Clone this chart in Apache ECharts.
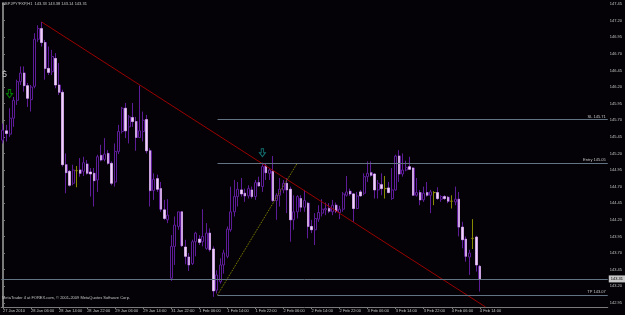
<!DOCTYPE html>
<html><head><meta charset="utf-8">
<script src="https://cdn.jsdelivr.net/npm/echarts@6/dist/echarts.min.js"></script>
<style>html,body{margin:0;padding:0;background:#000;}#c{width:625px;height:315px;}</style>
</head><body><div id="c"></div>
<script>
// ---- data (GBPJPY H1, bar 0 = 27 Jan 2010 22:00) ----
const opens  = [145.40,145.54,145.49,145.73,146.00,146.28,146.41,146.22,146.01,146.21,146.92,147.08,146.87,146.48,146.43,146.63,146.23,146.12,145.03,144.93,
144.75,144.94,144.95,144.93,145.04,144.92,144.90,144.80,145.17,145.11,145.20,145.05,144.77,145.23,145.53,145.88,145.60,145.74,145.68,145.44,
145.53,145.71,145.24,144.64,144.82,144.67,144.35,144.20,143.32,143.80,144.10,144.32,143.79,143.64,143.54,143.87,143.91,143.87,143.77,144.00,
143.76,143.14,143.27,143.52,143.65,144.05,144.32,144.55,144.65,144.60,144.56,144.65,144.55,144.76,144.70,145.01,144.90,144.93,144.49,144.57,
144.65,144.75,144.66,144.20,144.32,144.52,144.39,144.45,144.10,144.05,144.21,144.30,144.35,144.37,144.32,144.42,144.31,144.36,144.57,144.63,
144.59,144.37,144.62,144.60,144.85,144.91,144.89,144.65,144.73,144.67,144.68,144.52,144.65,145.16,144.89,144.95,145.00,144.98,144.57,144.61,
144.50,144.61,144.57,144.61,144.61,144.51,144.55,144.54,144.48,144.47,144.51,144.09,143.91,143.64,143.92,143.94,143.50];
const closes = [145.55,145.50,145.73,146.00,146.28,146.41,146.22,146.03,146.20,146.92,147.08,146.87,146.48,146.42,146.66,146.23,146.12,145.03,144.91,144.72,
144.95,144.94,144.90,145.06,144.90,144.89,144.79,145.15,145.10,145.19,145.05,144.75,145.23,145.53,145.88,145.54,145.75,145.68,145.44,145.54,
145.70,145.24,144.64,144.81,144.66,144.36,144.22,144.27,143.80,144.12,144.32,143.81,143.65,143.52,143.87,144.00,143.86,143.95,144.00,143.75,
143.13,143.37,143.52,143.70,144.06,144.32,144.55,144.66,144.59,144.56,144.67,144.55,144.76,144.71,145.00,144.91,144.95,144.49,144.57,144.66,
144.75,144.65,144.20,144.32,144.55,144.39,144.49,144.10,144.05,144.22,144.31,144.36,144.37,144.33,144.42,144.33,144.36,144.59,144.62,144.59,
144.37,144.56,144.56,144.85,144.90,144.87,144.65,144.75,144.67,144.67,144.61,144.65,145.16,144.89,144.95,144.99,144.96,144.57,144.61,144.50,
144.60,144.57,144.62,144.61,144.52,144.55,144.52,144.48,144.48,144.51,144.09,143.90,143.65,143.70,143.92,143.52,143.31];
const lows   = [145.35,145.38,145.45,145.60,145.93,146.23,146.13,145.90,145.83,146.18,146.88,146.81,146.31,146.38,146.38,146.18,146.08,145.00,144.60,144.70,
144.72,144.69,144.85,144.86,144.88,144.55,144.40,144.62,145.08,145.08,145.03,144.72,144.70,145.19,145.50,145.43,145.35,145.60,145.24,145.43,
145.38,145.20,144.40,144.50,144.62,144.32,144.20,144.15,143.28,143.52,144.05,143.79,143.53,143.43,143.52,143.65,143.82,143.80,143.75,143.72,
143.04,143.09,143.24,143.39,143.62,144.02,144.25,144.40,144.55,144.47,144.52,144.52,144.50,144.70,144.62,144.80,144.80,144.47,144.20,144.40,
144.60,144.30,143.87,144.05,144.22,144.32,144.32,143.92,144.00,143.82,144.17,144.25,144.27,144.30,144.27,144.30,144.21,144.32,144.55,144.56,
144.17,144.36,144.55,144.57,144.77,144.85,144.52,144.52,144.57,144.52,144.60,144.50,144.64,144.77,144.85,144.93,144.95,144.56,144.55,144.42,
144.47,144.55,144.30,144.42,144.50,144.47,144.50,144.45,144.37,144.42,143.95,143.77,143.57,143.37,143.76,143.42,143.12];
const highs  = [145.65,145.63,145.88,146.05,146.31,146.51,146.51,146.26,146.23,147.01,147.13,147.18,146.91,146.81,146.76,146.71,146.56,146.16,145.20,144.95,
145.03,145.01,145.13,145.15,145.10,144.98,144.98,145.18,145.33,145.43,145.25,145.08,145.35,145.63,145.90,145.96,145.78,145.96,145.75,146.22,
145.83,145.78,145.28,144.90,144.88,144.77,144.50,144.51,143.97,144.25,144.32,144.33,143.90,143.70,143.90,144.02,143.97,144.36,144.15,144.07,
143.80,143.44,143.62,143.75,144.10,144.70,144.80,144.77,144.83,144.67,144.72,144.70,144.80,144.85,145.06,145.05,144.98,145.16,144.60,144.83,
144.80,144.83,144.70,144.57,144.57,144.57,144.65,144.47,144.20,144.30,144.42,144.51,144.46,144.45,144.50,144.46,144.41,144.62,144.86,144.67,
144.60,144.62,144.65,144.90,145.08,145.08,144.90,144.80,144.90,144.86,144.77,144.98,145.18,145.25,145.20,145.09,145.15,144.99,144.83,144.65,
144.70,144.77,144.65,144.63,144.69,144.57,144.57,144.56,144.57,144.70,144.62,144.17,143.95,143.75,144.21,143.96,143.52];
const tickLabels = ['27 Jan 2010','28 Jan 06:00','28 Jan 14:00','28 Jan 22:00','29 Jan 06:00','29 Jan 14:00','31 Jan 22:00',
'1 Feb 06:00','1 Feb 14:00','1 Feb 22:00','2 Feb 06:00','2 Feb 14:00','2 Feb 22:00','3 Feb 06:00','3 Feb 14:00','3 Feb 22:00',
'4 Feb 06:00','4 Feb 14:00'];
const priceTicks = [147.45,147.20,146.95,146.70,146.45,146.20,145.95,145.70,145.45,145.20,144.95,144.70,144.45,144.20,143.95,143.70,143.45,143.20,142.95];
const yMin = 142.887, yMax = 147.465;
const totalSlots = 173;           // bars + empty right margin
const levels = {SL:145.71, Entry:145.05, TP:143.07};
const levelStartBar = 61.2;
const currentPrice = 143.31;
const downTrend = [[11,147.18],[137.65,142.887]];
const upTrend = [[61.2,143.07],[83.9,145.05]];
const greenArrow = [[1.86,146.10]];
const tealArrow = [[74.0,145.21]];
const headerText = 'GBPJPY!FXP,H1  143.33 143.38 143.14 143.31';
const footerText = 'MetaTrader 4 at FOREX.com, \u00a9 2001-2009 MetaQuotes Software Corp.';

// ---- categories (hourly, weekend gap after bar 47) ----
const months=['Jan','Feb','Mar','Apr','May','Jun','Jul','Aug','Sep','Oct','Nov','Dec'];
const t0 = Date.UTC(2010,0,27,22);
const categories = [];
for (let i=0;i<totalSlots;i++){
  const h = i + (i>=48?48:0);
  const d = new Date(t0 + h*3600000);
  categories.push(d.getUTCDate()+' '+months[d.getUTCMonth()]+' '+String(d.getUTCHours()).padStart(2,'0')+':00');
}

const PURPLE='#5e1c98', LIGHT='#efd2f6', OLIVE='#8a8a00', GRAY='#7a7a7a', TXT='#c4c4c4', LVL='#627383';
const FONT='Liberation Sans';

const candleData = opens.map((o,i)=>{
  const item={value:[o,closes[i],lows[i],highs[i]]};
  if (o===closes[i]) item.itemStyle={borderColor:OLIVE,borderColor0:OLIVE,color:OLIVE,color0:OLIVE};
  return item;
});
const bearBodies = opens.map((o,i)=> closes[i]<o ? [o,closes[i],closes[i],o] : '-');

function levelSeries(name,val){
  return {type:'line',xAxisIndex:1,data:[],silent:true,
    markLine:{symbol:'none',silent:true,animation:false,
      lineStyle:{color:LVL,width:1,type:'solid'},
      label:{show:true,position:'insideEndTop',distance:[2,1],formatter:name+' '+val.toFixed(2),
        color:TXT,fontSize:4,fontFamily:FONT},
      data:[[{coord:[levelStartBar,val]},{coord:[totalSlots-0.5,val]}]]}};
}
const arrowPath='path://M3,0L7,0L7,5L10,5L5,10L0,5L3,5Z';

const chart = echarts.init(document.getElementById('c'),null,{renderer:'canvas'});
chart.setOption({
  backgroundColor:'#040206',
  animation:false,
  textStyle:{fontFamily:FONT},
  title:[
    {text:headerText,left:2,top:2,padding:0,textStyle:{color:TXT,fontSize:4,fontWeight:'normal',fontFamily:FONT}},
    {text:footerText,left:2,top:296,padding:0,textStyle:{color:TXT,fontSize:4,fontWeight:'normal',fontFamily:FONT}},
    {text:'5',left:2,top:70,padding:0,textStyle:{color:TXT,fontSize:9,fontWeight:'normal',fontFamily:FONT}}
  ],
  grid:{left:0,right:15.5,top:3,bottom:8,containLabel:false},
  xAxis:[
    {type:'category',data:categories,boundaryGap:true,
      axisLine:{show:true,lineStyle:{color:GRAY,width:1}},
      axisTick:{show:true,alignWithLabel:true,length:2,lineStyle:{color:GRAY},interval:(i)=>i%8===0&&i<=136},
      axisLabel:{show:true,interval:(i)=>i%8===0&&i<=136,formatter:(v,i)=>tickLabels[i/8],
        align:'left',margin:2,fontSize:4,color:TXT,fontFamily:FONT},
      splitLine:{show:false}},
    {type:'value',min:-0.5,max:totalSlots-0.5,show:false}
  ],
  yAxis:[
    {type:'value',position:'right',min:yMin,max:yMax,
      axisLine:{show:true,lineStyle:{color:GRAY,width:1}},
      axisTick:{show:true,length:2,lineStyle:{color:GRAY},customValues:priceTicks},
      axisLabel:{show:true,customValues:priceTicks,formatter:(v)=>v.toFixed(2),margin:2,fontSize:4,color:TXT,fontFamily:FONT},
      splitLine:{show:false}},
    {type:'value',position:'left',min:yMin,max:yMax,offset:-1,
      axisLine:{show:true,lineStyle:{color:GRAY,width:1}},axisTick:{show:false},axisLabel:{show:false},splitLine:{show:false}}
  ],
  series:[
    {type:'candlestick',name:'bars',data:candleData,barWidth:2.5,
      itemStyle:{color:'#000000',color0:PURPLE,borderColor:PURPLE,borderColor0:PURPLE,borderWidth:1},
      markLine:{symbol:'none',silent:true,animation:false,
        lineStyle:{color:LVL,width:1,type:'solid'},
        label:{show:true,position:'end',distance:1,formatter:currentPrice.toFixed(2),
          color:'#000',backgroundColor:'#c8c8c8',padding:[2,2,1,2],fontSize:4,fontFamily:FONT},
        data:[{yAxis:currentPrice}]}},
    {type:'candlestick',name:'bearBodies',data:bearBodies,barWidth:2,
      itemStyle:{color:LIGHT,color0:LIGHT,borderColor:LIGHT,borderColor0:LIGHT,borderWidth:0.5}},
    levelSeries('SL',levels.SL),
    levelSeries('Entry',levels.Entry),
    levelSeries('TP',levels.TP),
    {type:'line',xAxisIndex:1,data:downTrend,symbol:'none',silent:true,lineStyle:{color:'#9a0000',width:1}},
    {type:'line',xAxisIndex:1,data:upTrend,symbol:'none',silent:true,lineStyle:{color:'#8f8f00',width:1,type:'dotted'}},
    {type:'scatter',xAxisIndex:1,data:greenArrow,symbol:arrowPath,symbolSize:[6,8],silent:true,
      itemStyle:{color:'rgba(0,0,0,0)',borderColor:'#00a000',borderWidth:1}},
    {type:'scatter',xAxisIndex:1,data:tealArrow,symbol:arrowPath,symbolSize:[6,8],silent:true,
      itemStyle:{color:'rgba(0,0,0,0)',borderColor:'#168c8c',borderWidth:1}}
  ]
});
</script></body></html>
